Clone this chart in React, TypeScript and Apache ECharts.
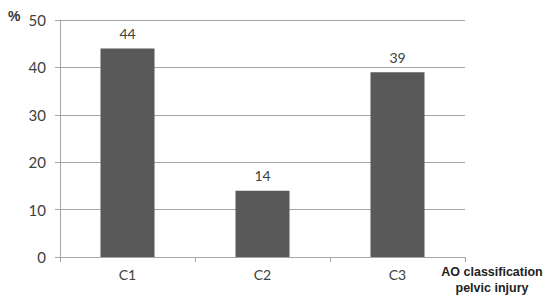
import React, { useEffect, useRef } from "react";
import * as echarts from "echarts";

const categories = ["C1", "C2", "C3"];
const values = [44, 14, 39];
const yTicks = { min: 0, max: 50, interval: 10 };
const axisTitle = "AO classification\npelvic injury";
const unitLabel = "%";

export default function App() {
  const ref = useRef<HTMLDivElement>(null);
  useEffect(() => {
    document.body.style.margin = "0";
    const chart = echarts.init(ref.current!, null, { renderer: "svg" });
    chart.setOption({
      animation: false,
      backgroundColor: "#ffffff",
      grid: { left: 60, right: 85, top: 20, bottom: 46, containLabel: false },
      xAxis: {
        type: "category",
        data: categories,
        axisLine: { lineStyle: { color: "#a6a6a6", width: 1 } },
        axisTick: { show: true, length: 5, lineStyle: { color: "#a6a6a6" } },
        axisLabel: { color: "#404040", fontSize: 14, fontFamily: "Lato", margin: 10 },
      },
      yAxis: {
        type: "value",
        min: yTicks.min,
        max: yTicks.max,
        interval: yTicks.interval,
        axisLine: { show: true, lineStyle: { color: "#a6a6a6", width: 1 } },
        axisTick: { show: true, length: 5, lineStyle: { color: "#a6a6a6" } },
        splitLine: { show: true, lineStyle: { color: "#a6a6a6", width: 1 } },
        axisLabel: { color: "#404040", fontSize: 15, fontFamily: "Lato", margin: 14 },
      },
      series: [
        {
          type: "bar",
          data: values,
          barWidth: "40%",
          itemStyle: { color: "#595959" },
          label: {
            show: true,
            position: "top",
            distance: 8,
            color: "#404040",
            fontSize: 14,
            fontFamily: "Lato",
          },
        },
      ],
      graphic: [
        {
          type: "text",
          left: 8,
          top: 9,
          style: { text: unitLabel, fontSize: 14, fontWeight: "bold", fill: "#333333", fontFamily: "Liberation Sans" },
        },
        {
          type: "text",
          x: 492,
          y: 264,
          style: {
            text: axisTitle,
            fontSize: 12.5,
            fontWeight: "bold",
            fill: "#222222",
            fontFamily: "Liberation Sans",
            align: "center",
            lineHeight: 16,
          },
        },
      ],
    });
    return () => chart.dispose();
  }, []);
  return <div ref={ref} style={{ width: 550, height: 303 }} />;
}
